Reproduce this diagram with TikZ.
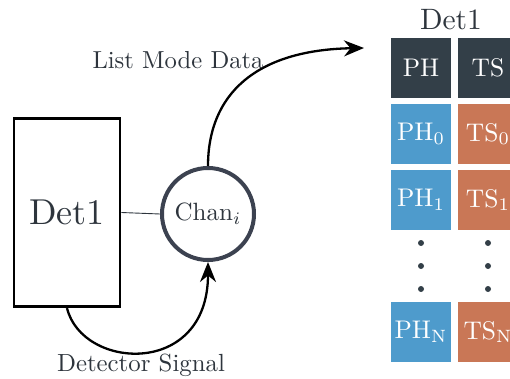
\documentclass[tikz,border=0pt]{standalone}
\usetikzlibrary{arrows.meta}
\definecolor{txt}{HTML}{2E353D}
\definecolor{circ}{HTML}{3C4250}
\definecolor{hdr}{HTML}{333F48}
\definecolor{phc}{HTML}{4E9BCC}
\definecolor{tsc}{HTML}{C97756}
\newcommand{\mysz}[2]{\scalebox{#1}{#2}}
\begin{document}
\begin{tikzpicture}[x=1pt,y=-1pt,
  cell/.style={minimum size=60pt, inner sep=0pt, text=white},
  hcell/.style={cell, fill=hdr},
  pcell/.style={cell, fill=phc},
  tcell/.style={cell, fill=tsc},
  vdot/.style={circle, fill=hdr, inner sep=0pt, minimum size=6pt},
  lbl/.style={text=txt, anchor=base, inner sep=0pt},
  arr/.style={line width=2.3pt, -{Stealth[length=20pt,width=16pt]}}
]
\useasboundingbox (0,0) rectangle (510,379);
% detector box
\node[draw=black, line width=2.6pt, minimum width=106pt, minimum height=188.5pt,
  text=txt, inner sep=0pt] (det) at (67,212.5) {\mysz{3.6}{Det1}};
% channel circle
\node[circle, draw=circ, line width=4pt, minimum size=92pt, inner sep=0pt,
  text=txt] (chan) at (208,214) {\mysz{2.5}{Chan$_i$}};
\draw[line width=0.9pt, draw=txt] (det.east) -- (chan.west);
% arrows
\coordinate (lmd) at (364,48);
\draw[arr] (chan.north) .. controls (208,95) and (255,50) .. (lmd);
\draw[arr] (det.south) .. controls (82,370) and (208,378) .. (chan.south);
% labels
\node[lbl] (lmdl) at (178,68.3) {\mysz{2.46}{List Mode Data}};
\node[lbl] (dsl) at (141,371.7) {\mysz{2.48}{Detector Signal}};
% list mode table
\node[lbl] (title) at (451,30) {\mysz{2.95}{Det1}};
\node[hcell] (ph) at (421,68) {\mysz{2.55}{PH}};
\node[hcell] (ts) at (488,68) {\mysz{2.55}{TS}};
\node[pcell] (ph0) at (421,134) {\mysz{2.55}{PH$_0$}};
\node[tcell] (ts0) at (488,134) {\mysz{2.55}{TS$_0$}};
\node[pcell] (ph1) at (421,200) {\mysz{2.55}{PH$_1$}};
\node[tcell] (ts1) at (488,200) {\mysz{2.55}{TS$_1$}};
\node[vdot] (pd1) at (421,243) {};
\node[vdot] (pd2) at (421,266) {};
\node[vdot] (pd3) at (421,289) {};
\node[vdot] (td1) at (488,243) {};
\node[vdot] (td2) at (488,266) {};
\node[vdot] (td3) at (488,289) {};
\node[pcell] (phn) at (421,332) {\mysz{2.55}{PH$_\mathrm{N}$}};
\node[tcell] (tsn) at (488,332) {\mysz{2.55}{TS$_\mathrm{N}$}};
\end{tikzpicture}
\end{document}
